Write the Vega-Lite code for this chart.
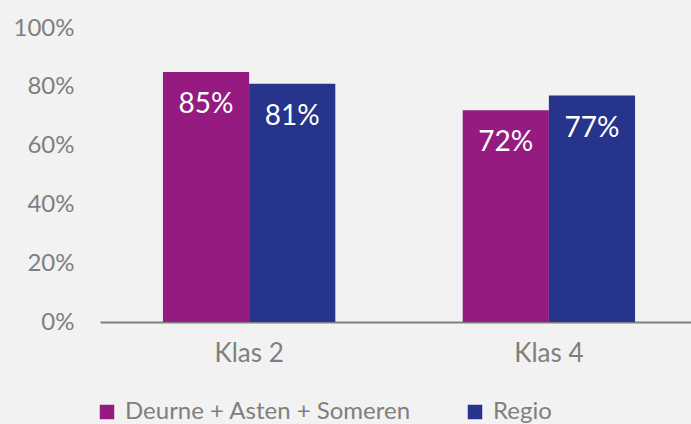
{
  "$schema": "https://vega.github.io/schema/vega-lite/v6.json",
  "autosize": {"type": "none"},
  "width": 591,
  "height": 294,
  "padding": {"left": 100, "top": 28, "right": 0, "bottom": 102},
  "background": "#F2F2F2",
  "config": {
    "view": {"stroke": null},
    "font": "Lato",
    "axis": {"labelFont": "Lato", "labelColor": "#7F7F7F"},
    "legend": {"labelFont": "Lato", "labelColor": "#7F7F7F"}
  },
  "data": {
    "values": [
      {"klas": "Klas 2", "groep": "Deurne + Asten + Someren", "waarde": 0.85},
      {"klas": "Klas 2", "groep": "Regio", "waarde": 0.81},
      {"klas": "Klas 4", "groep": "Deurne + Asten + Someren", "waarde": 0.72},
      {"klas": "Klas 4", "groep": "Regio", "waarde": 0.77}
    ]
  },
  "encoding": {
    "x": {
      "field": "klas",
      "type": "nominal",
      "scale": {"range": [0, 598], "paddingInner": 0.425, "paddingOuter": 0.21},
      "axis": {
        "title": null,
        "labelAngle": 0,
        "labelFontSize": 26,
        "labelPadding": 18,
        "ticks": false,
        "domainColor": "#7F7F7F",
        "domainWidth": 2
      }
    },
    "xOffset": {
      "field": "groep",
      "type": "nominal",
      "sort": ["Deurne + Asten + Someren", "Regio"],
      "scale": {"paddingInner": 0, "paddingOuter": 0}
    },
    "y": {
      "field": "waarde",
      "type": "quantitative",
      "scale": {"domain": [0, 1], "nice": false},
      "axis": {
        "title": null,
        "format": ".0%",
        "values": [0, 0.2, 0.4, 0.6, 0.8, 1],
        "grid": false,
        "domain": false,
        "ticks": false,
        "labelPadding": 26,
        "labelFontSize": 24
      }
    }
  },
  "layer": [
    {
      "mark": {"type": "bar"},
      "encoding": {
        "color": {
          "field": "groep",
          "type": "nominal",
          "sort": ["Deurne + Asten + Someren", "Regio"],
          "scale": {"range": ["#951B81", "#27348B"]},
          "legend": {
            "title": null,
            "orient": "none",
            "direction": "horizontal",
            "legendX": -5,
            "legendY": 372,
            "padding": 0,
            "symbolType": "square",
            "symbolSize": 210,
            "symbolStrokeWidth": 0,
            "symbolOpacity": 1,
            "labelFontSize": 24,
            "labelLimit": 0,
            "labelOffset": 6,
            "columnPadding": 52
          }
        }
      }
    },
    {
      "mark": {"type": "text", "color": "white", "fontSize": 28, "dy": 33, "baseline": "middle", "align": "center"},
      "encoding": {
        "text": {"field": "waarde", "type": "quantitative", "format": ".0%"}
      }
    }
  ]
}
